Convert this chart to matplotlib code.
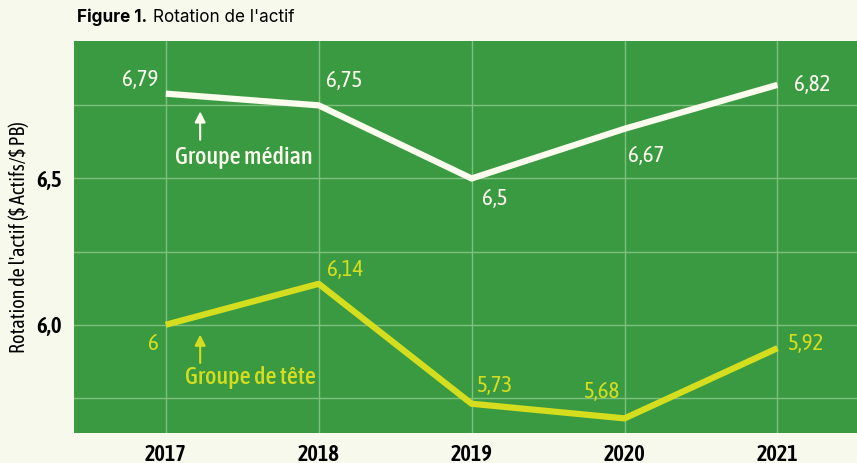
import matplotlib.pyplot as plt
from matplotlib import font_manager

# ----- data -----
years = [2017, 2018, 2019, 2020, 2021]
groupe_median = [6.79, 6.75, 6.5, 6.67, 6.82]
groupe_tete = [6.0, 6.14, 5.73, 5.68, 5.92]
median_labels = ["6,79", "6,75", "6,5", "6,67", "6,82"]
tete_labels = ["6", "6,14", "5,73", "5,68", "5,92"]
yticks = [6.0, 6.5]
ytick_labels = ["6,0", "6,5"]

# ----- style -----
BG = "#f8f9ed"
PLOT_BG = "#3a9a41"
WHITE = "#fbfbee"
YELLOW = "#d4de1f"
GRID = "#80c07f"

# condensed face like the reference
names = {f.name for f in font_manager.fontManager.ttflist}
NARROW = "Asap Condensed" if "Asap Condensed" in names else "DejaVu Sans"
plt.rcParams['font.family'] = [NARROW, 'DejaVu Sans']
plt.rcParams['font.stretch'] = 'condensed'

fig = plt.figure(figsize=(8.57, 4.63), dpi=100, facecolor=BG)
ax = fig.add_axes([74/857, 30/463, 1 - 74/857, (433-41)/463])
ax.set_facecolor(PLOT_BG)

ax.set_xlim(2016.4, 2021.52)
ax.set_ylim(5.63, 6.97)

# grid
for y in [5.75, 6.0, 6.25, 6.5, 6.75]:
    ax.axhline(y, color=GRID, lw=1, zorder=1)
for x in years:
    ax.axvline(x, color=GRID, lw=1, zorder=1)

ax.plot(years, groupe_median, color=WHITE, lw=4.5, solid_capstyle='butt', zorder=3)
ax.plot(years, groupe_tete, color=YELLOW, lw=4.5, solid_capstyle='butt', zorder=3)

# value labels (offset in pixels)
med_off = [(-26, 14), (25, 24), (23, -21), (22, -27), (35, 0)]
tete_off = [(-12, -19), (26, 14), (23, 18), (-23, 26), (28, 4)]
for x, y, s, o in zip(years, groupe_median, median_labels, med_off):
    ax.annotate(s, (x, y), xytext=o, textcoords='offset pixels', color=WHITE,
                fontsize=16.5, ha='center', va='center', zorder=4)
for x, y, s, o in zip(years, groupe_tete, tete_labels, tete_off):
    ax.annotate(s, (x, y), xytext=o, textcoords='offset pixels', color=YELLOW,
                fontsize=16.5, ha='center', va='center', zorder=4)

# series callouts
ax.annotate("", xy=(2017.225, 6.739), xytext=(2017.225, 6.623),
            arrowprops=dict(arrowstyle='-|>', color=WHITE, lw=1.5, mutation_scale=16))
ax.text(2017.51, 6.572, "Groupe médian", color=WHITE, fontsize=17.5, fontweight='medium',
        ha='center', va='center')
ax.annotate("", xy=(2017.225, 5.976), xytext=(2017.225, 5.86),
            arrowprops=dict(arrowstyle='-|>', color=YELLOW, lw=1.5, mutation_scale=16))
ax.text(2017.555, 5.819, "Groupe de tête", color=YELLOW, fontsize=17.5, fontweight='medium',
        ha='center', va='center')

# axes
for sp in ax.spines.values():
    sp.set_visible(False)
ax.set_xticks(years)
ax.set_xticklabels([str(y) for y in years], fontsize=16, fontweight='semibold')
ax.set_yticks(yticks)
ax.set_yticklabels(ytick_labels, fontsize=16.5, fontweight='semibold')
ax.tick_params(axis='y', length=0, pad=9)
ax.tick_params(axis='x', length=0, pad=8)
ax.set_ylabel("Rotation de l'actif (\\$ Actifs/\\$ PB)", fontsize=14.5)
ax.yaxis.set_label_coords(-45/783, 0.5)

# title
fig.text(77/857, 1 - 17/463, "Figure 1.", fontsize=12.3, fontweight='bold',
         family=['Inter', 'DejaVu Sans'], stretch='normal', va='center', ha='left')
fig.text(153/857, 1 - 17/463, "Rotation de l'actif", fontsize=12.3,
         family=['Inter', 'DejaVu Sans'], stretch='normal', va='center', ha='left')

fig.savefig("out.png", dpi=100, facecolor=BG)
